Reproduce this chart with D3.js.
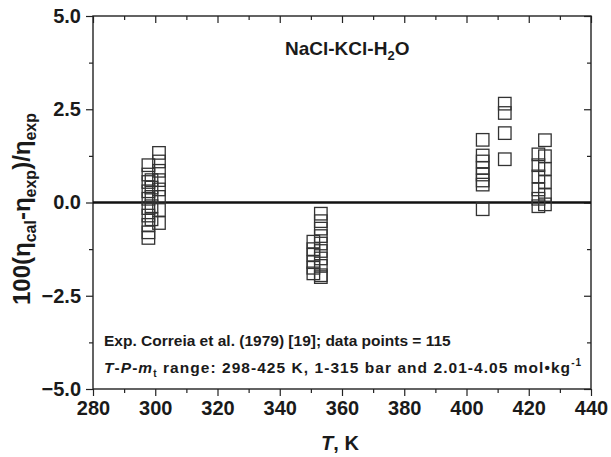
<!DOCTYPE html>
<html>
<head>
<meta charset="utf-8">
<script src="https://cdn.jsdelivr.net/npm/d3@7"></script>
<style>
  html, body { margin: 0; padding: 0; background: #fff; }
  svg { display: block; font-family: "Liberation Sans", Arial, sans-serif; font-weight: bold; }
</style>
</head>
<body>
<svg id="chart" width="611" height="457"></svg>
<script>
// Relative viscosity deviations, NaCl-KCl-H2O, grouped by isotherm (T in K)
const isothermT = [297.8, 298.8, 301.2, 350.8, 353.2, 405.2, 412.3, 423.1, 425.2];
const dev297 = [1.0, 0.75, 0.55, 0.3, 0.1, -0.15, -0.35, -0.6, -0.8, -0.95];
const dev298 = [0.6, 0.4, 0.15, -0.1, -0.45];
const dev301 = [1.33, 1.1, 0.85, 0.6, 0.35, 0.15, -0.2, -0.55];
const dev350 = [-1.05, -1.25, -1.4, -1.6, -1.75, -1.9];
const dev353 = [-0.3, -0.5, -0.7, -0.9, -1.1, -1.3, -1.5, -1.7, -1.95, -2.0];
const dev405 = [1.68, 1.26, 1.1, 0.93, 0.75, 0.59, 0.48, -0.18];
const dev412 = [2.65, 2.4, 1.86, 1.16];
const dev423 = [1.29, 1.0, 0.7, 0.35, 0.1, -0.1];
const dev425 = [1.67, 1.24, 0.9, 0.55, 0.2, -0.05];
const deviationSets = [dev297, dev298, dev301, dev350, dev353, dev405, dev412, dev423, dev425];

const xTicks = [280, 300, 320, 340, 360, 380, 400, 420, 440];
const yTicks = [-5.0, -2.5, 0.0, 2.5, 5.0];

const points = [];
isothermT.forEach((t, i) => deviationSets[i].forEach(v => points.push({ t, v })));

const svg = d3.select("#chart");
const margin = { top: 16, right: 20, bottom: 68, left: 93 };
const W = 611, H = 457;
const iw = W - margin.left - margin.right;
const ih = H - margin.top - margin.bottom;

const x = d3.scaleLinear().domain([280, 440]).range([0, iw]);
const y = d3.scaleLinear().domain([-5, 5]).range([ih, 0]);

const g = svg.append("g").attr("transform", `translate(${margin.left},${margin.top})`);

const minorX = d3.range(290, 440, 20);
const minorY = [-3.75, -1.25, 1.25, 3.75];

function styleAxis(sel) {
  sel.select(".domain").remove();
  sel.selectAll("line").attr("stroke", "#222").attr("stroke-width", 1.2);
  sel.selectAll("text").attr("fill", "#1a1a1a").style("font-size", "20px").style("font-weight", "bold");
}

// bottom axis (outward ticks)
g.append("g").attr("transform", `translate(0,${ih})`)
  .call(d3.axisBottom(x).tickValues(xTicks).tickFormat(d3.format("d")).tickSize(7).tickPadding(5))
  .call(styleAxis);
g.append("g").attr("transform", `translate(0,${ih})`)
  .call(d3.axisBottom(x).tickValues(minorX).tickFormat("").tickSize(4))
  .call(styleAxis);

// left axis (outward ticks)
g.append("g")
  .call(d3.axisLeft(y).tickValues(yTicks).tickFormat(d3.format(".1f")).tickSize(7).tickPadding(5))
  .call(styleAxis);
g.append("g")
  .call(d3.axisLeft(y).tickValues(minorY).tickFormat("").tickSize(4))
  .call(styleAxis);

// top and right axes (inward ticks)
g.append("g")
  .call(d3.axisTop(x).tickValues(xTicks).tickFormat("").tickSize(-7))
  .call(styleAxis);
g.append("g")
  .call(d3.axisTop(x).tickValues(minorX).tickFormat("").tickSize(-4))
  .call(styleAxis);
g.append("g").attr("transform", `translate(${iw},0)`)
  .call(d3.axisRight(y).tickValues(yTicks).tickFormat("").tickSize(-7))
  .call(styleAxis);
g.append("g").attr("transform", `translate(${iw},0)`)
  .call(d3.axisRight(y).tickValues(minorY).tickFormat("").tickSize(-4))
  .call(styleAxis);

// frame
g.append("rect").attr("x", 0).attr("y", 0).attr("width", iw).attr("height", ih)
  .attr("fill", "none").attr("stroke", "#222").attr("stroke-width", 1.4);

// zero reference line
g.append("line")
  .attr("x1", x(280)).attr("x2", x(440)).attr("y1", y(0)).attr("y2", y(0))
  .attr("stroke", "#111").attr("stroke-width", 2.6);

// open square markers
const s = 12.5;
g.append("g").selectAll("rect").data(points).join("rect")
  .attr("x", d => x(d.t) - s / 2).attr("y", d => y(d.v) - s / 2)
  .attr("width", s).attr("height", s)
  .attr("fill", "none").attr("stroke", "#333").attr("stroke-width", 1.3);

// system label
const sys = svg.append("text").attr("x", 285).attr("y", 55).attr("fill", "#1a1a1a")
  .style("font-size", "19px");
sys.append("tspan").text("NaCl-KCl-H");
sys.append("tspan").attr("dy", 5).style("font-size", "13px").text("2");
sys.append("tspan").attr("dy", -5).text("O");

// source notes
svg.append("text").attr("x", 104).attr("y", 346).attr("fill", "#1a1a1a")
  .style("font-size", "15.5px").text("Exp. Correia et al. (1979) [19]; data points = 115");
const note = svg.append("text").attr("x", 104).attr("y", 373).attr("fill", "#1a1a1a")
  .style("font-size", "15.5px").style("letter-spacing", "1.05px");
note.append("tspan").style("font-style", "italic").text("T");
note.append("tspan").text("-");
note.append("tspan").style("font-style", "italic").text("P");
note.append("tspan").text("-");
note.append("tspan").style("font-style", "italic").text("m");
note.append("tspan").attr("dy", 4).style("font-size", "10px").text("t");
note.append("tspan").attr("dy", -4).text(" range: 298-425 K, 1-315 bar and 2.01-4.05 mol\u2022kg");
note.append("tspan").attr("dy", -7).style("font-size", "10px").text("-1");

// x axis title
const xt = svg.append("text").attr("x", 340).attr("y", 450).attr("text-anchor", "middle")
  .attr("fill", "#1a1a1a").style("font-size", "20px");
xt.append("tspan").style("font-style", "italic").text("T");
xt.append("tspan").text(", K");

// y axis title
const yt = svg.append("text").attr("transform", "translate(30,209) rotate(-90)")
  .attr("text-anchor", "middle").attr("fill", "#1a1a1a").style("font-size", "24px");
yt.append("tspan").text("100(\u03b7");
yt.append("tspan").attr("dy", 6).style("font-size", "16px").text("cal");
yt.append("tspan").attr("dy", -6).text("-\u03b7");
yt.append("tspan").attr("dy", 6).style("font-size", "16px").text("exp");
yt.append("tspan").attr("dy", -6).text(")/\u03b7");
yt.append("tspan").attr("dy", 6).style("font-size", "16px").text("exp");
</script>
</body>
</html>
